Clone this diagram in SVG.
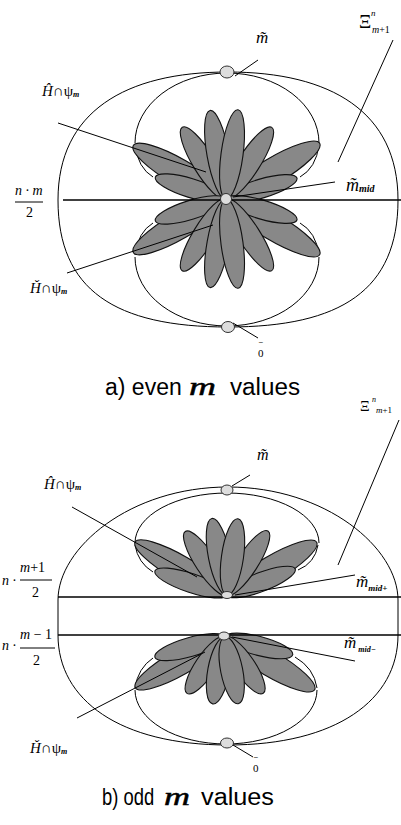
<svg xmlns="http://www.w3.org/2000/svg" width="401" height="825" viewBox="0 0 401 825">
<style>
.ln{fill:none;stroke:#000;stroke-width:1}
.hl{fill:none;stroke:#000;stroke-width:1.3}
.pt{fill:#888;stroke:#111;stroke-width:1.1}
.dot{fill:#ddd;stroke:#333;stroke-width:1}
.mi{font-family:"Liberation Serif",serif;font-style:italic;fill:#000}
.mr{font-family:"Liberation Serif",serif;fill:#000}
.zt{font-family:"Liberation Serif",serif;font-size:11px;fill:#000}
.tl{font-family:"Liberation Sans",sans-serif;font-size:8px;fill:#000}
.cap{font-family:"Liberation Sans",sans-serif;font-size:23px;fill:#000}
.capm{font-family:"Liberation Serif",serif;font-style:italic;font-size:26px;fill:#000;stroke:#000;stroke-width:0.5}
</style>
<defs>
<g id="upA">
<ellipse class="pt" cx="53.5" cy="0" rx="53.5" ry="13" transform="rotate(-150)"/>
<ellipse class="pt" cx="54.5" cy="0" rx="54.5" ry="13" transform="rotate(-30.8)"/>
<ellipse class="pt" cx="37" cy="0" rx="37" ry="9.5" transform="rotate(-162.8)"/>
<ellipse class="pt" cx="37" cy="0" rx="37" ry="9.5" transform="rotate(-16.5)"/>
<ellipse class="pt" cx="42" cy="0" rx="42" ry="11" transform="rotate(-121.4)"/>
<ellipse class="pt" cx="42.5" cy="0" rx="42.5" ry="11" transform="rotate(-57.4)"/>
<ellipse class="pt" cx="45" cy="0" rx="45" ry="11" transform="rotate(-100.2)"/>
<ellipse class="pt" cx="45" cy="0" rx="45" ry="11" transform="rotate(-82.3)"/>
</g>
</defs>
<g id="part-a">
<g id="a-outer"><path class="ln" d="M58,200 C58,112 125,72 228,72 C331,72 398,112 398,200 C398,290 341,327 228,327 C115,327 58,290 58,200 Z"/></g>
<g id="a-inner">
<path class="ln" d="M135,143 A92,70 0 0 1 319,143"/>
<path class="ln" d="M135,257 A92,69 0 0 0 319,257"/>
<path class="ln" d="M135,145 Q138,168 153,177"/>
<path class="ln" d="M135,255 Q138,232 153,223"/>
<path class="ln" d="M319,145 Q316,168 300,177"/>
<path class="ln" d="M319,255 Q316,232 300,223"/>
</g>
<g id="a-flower">
<use href="#upA" transform="translate(226,199)"/>
<use href="#upA" transform="translate(226,199) scale(1,-1)"/>
</g>
<line class="hl" x1="63" y1="200" x2="401" y2="200"/>
<ellipse id="a-top" class="dot" cx="227" cy="72" rx="7" ry="6"/>
<ellipse id="a-center" class="dot" cx="226" cy="199" rx="5.5" ry="5.5"/>
<ellipse id="a-bottom" class="dot" cx="228" cy="327" rx="6.5" ry="5.5"/>
<g id="a-connectors">
<line class="ln" x1="258" y1="60" x2="235" y2="76"/>
<line class="ln" x1="393" y1="40" x2="338" y2="162"/>
<line class="ln" x1="58" y1="123" x2="206" y2="172"/>
<line class="ln" x1="335" y1="182" x2="233" y2="197"/>
<line class="ln" x1="67" y1="273" x2="213" y2="225"/>
<line class="ln" x1="233" y1="323" x2="258" y2="338"/>
</g>
<g id="a-labels">
<text class="mi" x="256" y="43" font-size="17">m̃</text>
<text class="mr" x="359" y="28" font-size="19">Ξ</text>
<text class="mi" x="371" y="16" font-size="9">n</text>
<text class="mi" x="372" y="33" font-size="10">m<tspan class="mr" font-style="normal">+1</tspan></text>
<text class="mi" x="42" y="96" font-size="15">Ĥ<tspan font-style="normal">∩ψ</tspan><tspan font-size="8" font-weight="bold" dy="1">m</tspan></text>
<text class="mi" x="346" y="191" font-size="18">m̃<tspan font-size="10" font-weight="bold" dy="1">mid</tspan></text>
<text class="mi" x="15" y="195" font-size="14">n · m</text>
<line class="ln" x1="15" y1="202" x2="43" y2="202"/>
<text class="mr" x="26" y="217" font-size="14">2</text>
<text class="mi" x="30" y="293" font-size="15">Ȟ<tspan font-style="normal">∩ψ</tspan><tspan font-size="8" font-weight="bold" dy="1">m</tspan></text>
<text class="tl" x="258.5" y="345">~</text>
<text class="zt" x="258" y="357">0</text>
</g>
<g id="a-caption">
<text class="cap" x="105" y="395">a) even</text>
<text class="capm" x="189" y="395" textLength="27" lengthAdjust="spacingAndGlyphs">m</text>
<text class="cap" x="230" y="395" textLength="70" lengthAdjust="spacingAndGlyphs">values</text>
</g>
</g>
<g id="part-b">
<g id="b-outer"><path class="ln" d="M58,600 C58,548 130,487 228,487 C326,487 398,548 398,600 L398,635 C398,700 336,745 228,745 C120,745 58,700 58,635 Z"/></g>
<g id="b-inner">
<path class="ln" d="M135,543 A92,50 0 0 1 319,543"/>
<path class="ln" d="M135,690 A91,54 0 0 0 317,690"/>
<path class="ln" d="M135,545 Q138,563 153,572"/>
<path class="ln" d="M318,545 Q315,563 298,570"/>
<path class="ln" d="M135,688 Q138,668 153,658"/>
<path class="ln" d="M317,688 Q314,668 295,657"/>
</g>
<g id="b-flower-up" transform="translate(227,595)">
<ellipse class="pt" cx="53" cy="0" rx="53" ry="12.5" transform="rotate(-150)"/>
<ellipse class="pt" cx="52" cy="0" rx="52" ry="12.5" transform="rotate(-30.5)"/>
<ellipse class="pt" cx="38" cy="0" rx="38" ry="9.5" transform="rotate(-161.6)"/>
<ellipse class="pt" cx="36.5" cy="0" rx="36.5" ry="9.5" transform="rotate(-20.9)"/>
<ellipse class="pt" cx="38" cy="0" rx="38" ry="10.5" transform="rotate(-123.3)"/>
<ellipse class="pt" cx="38" cy="0" rx="38" ry="10.5" transform="rotate(-57.4)"/>
<ellipse class="pt" cx="39" cy="0" rx="39" ry="11" transform="rotate(-101.2)"/>
<ellipse class="pt" cx="38.5" cy="0" rx="38.5" ry="11" transform="rotate(-81.8)"/>
</g>
<g id="b-flower-down" transform="translate(225,637)">
<ellipse class="pt" cx="51.5" cy="0" rx="51.5" ry="12.5" transform="rotate(150.5)"/>
<ellipse class="pt" cx="52" cy="0" rx="52" ry="12.5" transform="rotate(30.5)"/>
<ellipse class="pt" cx="36.5" cy="0" rx="36.5" ry="9.5" transform="rotate(164)"/>
<ellipse class="pt" cx="35" cy="0" rx="35" ry="9.5" transform="rotate(14.8)"/>
<ellipse class="pt" cx="34" cy="0" rx="34" ry="10.5" transform="rotate(124)"/>
<ellipse class="pt" cx="34" cy="0" rx="34" ry="10.5" transform="rotate(55.8)"/>
<ellipse class="pt" cx="34" cy="0" rx="34" ry="11" transform="rotate(100.5)"/>
<ellipse class="pt" cx="34" cy="0" rx="34" ry="11" transform="rotate(78.7)"/>
</g>
<line class="hl" x1="58" y1="597" x2="401" y2="597"/>
<line class="hl" x1="58" y1="635" x2="401" y2="635"/>
<ellipse id="b-top" class="dot" cx="227" cy="490" rx="6" ry="5"/>
<ellipse id="b-mid-up" class="dot" cx="227" cy="595" rx="5.5" ry="3.5"/>
<ellipse id="b-mid-down" class="dot" cx="224" cy="636" rx="5.5" ry="4"/>
<ellipse id="b-bottom" class="dot" cx="227" cy="743" rx="6.5" ry="5"/>
<g id="b-connectors">
<line class="ln" x1="250" y1="475" x2="232" y2="486"/>
<line class="ln" x1="399" y1="420" x2="338" y2="565"/>
<line class="ln" x1="72" y1="507" x2="197" y2="577"/>
<line class="ln" x1="355" y1="575" x2="235" y2="595"/>
<line class="ln" x1="355" y1="661" x2="232" y2="637"/>
<line class="ln" x1="77" y1="718" x2="205" y2="652"/>
<line class="ln" x1="233" y1="745" x2="253" y2="757"/>
</g>
<g id="b-labels">
<text class="mi" x="257" y="460" font-size="16">m̃</text>
<text class="mr" x="360" y="411" font-size="15">Ξ</text>
<text class="mi" x="372" y="402" font-size="8">n</text>
<text class="mi" x="376" y="413" font-size="9">m<tspan class="mr" font-style="normal">+1</tspan></text>
<text class="mi" x="44" y="489" font-size="15">Ĥ<tspan font-style="normal">∩ψ</tspan><tspan font-size="8" font-weight="bold" dy="1">m</tspan></text>
<text class="mi" x="356" y="587" font-size="17">m̃<tspan font-size="9" font-weight="bold" dy="4">mid+</tspan></text>
<text class="mi" x="344" y="648" font-size="17">m̃<tspan font-size="8" font-weight="bold" dy="4" dx="2">mid−</tspan></text>
<text class="mi" x="2" y="585" font-size="14">n ·</text>
<text class="mi" x="20" y="572" font-size="14">m<tspan class="mr" font-style="normal">+1</tspan></text>
<line class="ln" x1="20" y1="580" x2="52" y2="580"/>
<text class="mr" x="32" y="597" font-size="14">2</text>
<text class="mi" x="2" y="650" font-size="14">n ·</text>
<text class="mi" x="20" y="639" font-size="14">m<tspan class="mr" font-style="normal"> − 1</tspan></text>
<line class="ln" x1="20" y1="648" x2="55" y2="648"/>
<text class="mr" x="33" y="665" font-size="14">2</text>
<text class="mi" x="30" y="753" font-size="15">Ȟ<tspan font-style="normal">∩ψ</tspan><tspan font-size="8" font-weight="bold" dy="1">m</tspan></text>
<text class="tl" x="253.5" y="760">~</text>
<text class="zt" x="253" y="772">0</text>
</g>
<g id="b-caption">
<text class="cap" transform="translate(102,805) scale(0.8,1)" x="0" y="0">b) odd</text>
<text class="capm" x="164" y="805" textLength="26" lengthAdjust="spacingAndGlyphs">m</text>
<text class="cap" x="201" y="805" textLength="73" lengthAdjust="spacingAndGlyphs">values</text>
</g>
</g>
</svg>
